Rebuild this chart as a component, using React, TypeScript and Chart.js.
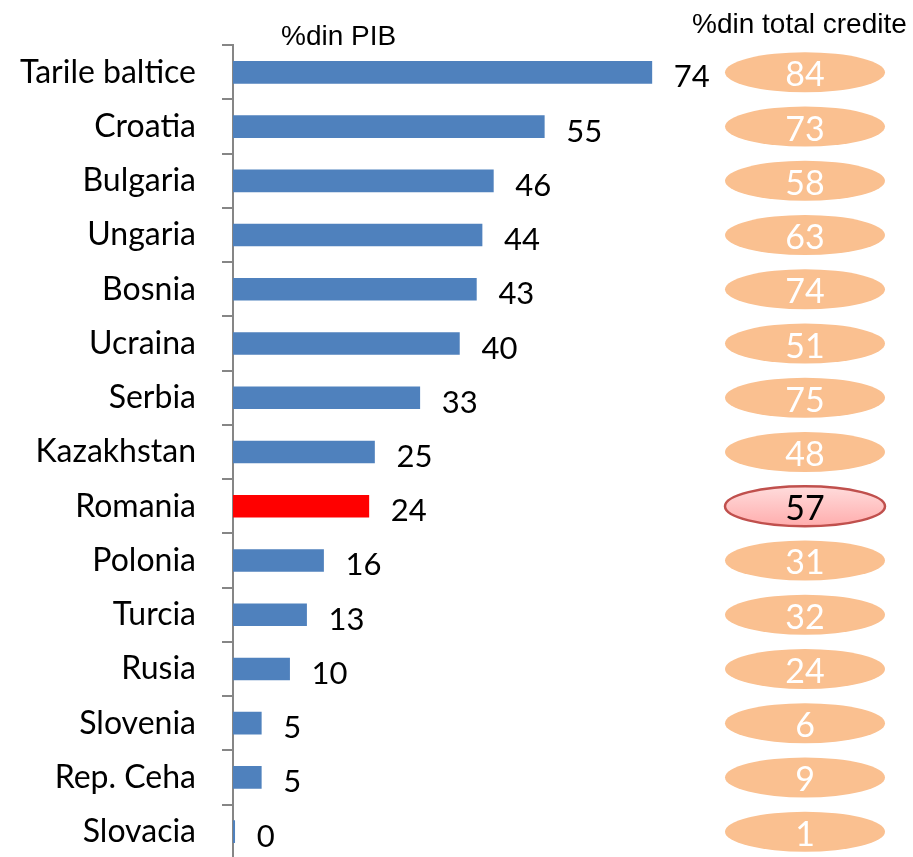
import React, { useEffect, useRef } from "react";
import { Chart, registerables } from "chart.js";

Chart.register(...registerables);

const categories = [
  "Tarile baltice", "Croatia", "Bulgaria", "Ungaria", "Bosnia", "Ucraina", "Serbia",
  "Kazakhstan", "Romania", "Polonia", "Turcia", "Rusia", "Slovenia", "Rep. Ceha", "Slovacia",
];
const pibValues = [74, 55, 46, 44, 43, 40, 33, 25, 24, 16, 13, 10, 5, 5, 0.3];
const creditShare = [84, 73, 58, 63, 74, 51, 75, 48, 57, 31, 32, 24, 6, 9, 1];
const highlightCategory = "Romania";
const pibTitle = "%din PIB";
const creditTitle = "%din total credite";

const BLUE = "#4F81BD";
const RED = "#FF0000";
const PEACH = "#FAC090";

const overlayPlugin = {
  id: "overlay",
  afterDatasetsDraw(chart: any) {
    const ctx = chart.ctx;
    const meta = chart.getDatasetMeta(0);
    const yScale = chart.scales.y;
    ctx.save();
    // value labels
    ctx.font = "31px Lato";
    ctx.fillStyle = "#000";
    ctx.textAlign = "left";
    ctx.textBaseline = "alphabetic";
    meta.data.forEach((el: any, i: number) => {
      ctx.fillText(String(Math.round(pibValues[i])), el.x + 22, el.y + 15);
    });
    // ellipses
    const cx = 805;
    const rx = 80;
    const ry = 20;
    creditShare.forEach((v, i) => {
      const cy = yScale.getPixelForValue(i);
      const hl = categories[i] === highlightCategory;
      ctx.beginPath();
      ctx.ellipse(cx, cy, rx, ry, 0, 0, Math.PI * 2);
      if (hl) {
        const g = ctx.createLinearGradient(0, cy - ry, 0, cy + ry);
        g.addColorStop(0, "#FFDCDC");
        g.addColorStop(1, "#FFADAD");
        ctx.fillStyle = g;
        ctx.fill();
        ctx.lineWidth = 2.5;
        ctx.strokeStyle = "#C0504D";
        ctx.stroke();
      } else {
        ctx.fillStyle = PEACH;
        ctx.fill();
      }
      ctx.font = "34px Lato";
      ctx.textAlign = "center";
      ctx.textBaseline = "alphabetic";
      ctx.fillStyle = hl ? "#000" : "#FFFFFF";
      ctx.fillText(String(v), cx, cy + 14);
    });
    // headers
    ctx.fillStyle = "#000";
    ctx.textAlign = "left";
    ctx.font = "28px 'Liberation Sans'";
    ctx.fillText(pibTitle, 281, 45);
    ctx.fillText(creditTitle, 692, 33);
    ctx.restore();
  },
};

export default function App() {
  const ref = useRef<HTMLCanvasElement | null>(null);
  useEffect(() => {
    if (!ref.current) return;
    const chart = new Chart(ref.current, {
      type: "bar",
      data: {
        labels: categories,
        datasets: [
          {
            data: pibValues,
            backgroundColor: categories.map((c) => (c === highlightCategory ? RED : BLUE)),
            barThickness: 22,
          },
        ],
      },
      options: {
        indexAxis: "y",
        animation: false,
        responsive: false,
        layout: { padding: { top: 44, bottom: 10, right: 114, left: 0 } },
        plugins: { legend: { display: false }, tooltip: { enabled: false } },
        scales: {
          x: { display: false, min: 0, max: 100 },
          y: {
            afterFit: (s: any) => {
              s.width = 233;
            },
            border: { display: true, color: "#868686", width: 2 },
            grid: {
              drawOnChartArea: false,
              drawTicks: true,
              tickLength: 11,
              color: "#868686",
              lineWidth: 2,
            },
            ticks: {
              color: "#000",
              font: { family: "Lato", size: 32 },
              padding: 26,
              autoSkip: false,
            },
          },
        },
      },
      plugins: [overlayPlugin],
    });
    return () => chart.destroy();
  }, []);
  return (
    <div style={{ position: "fixed", left: 0, top: 0, width: 913, height: 857, overflow: "hidden", background: "#fff" }}>
      <canvas ref={ref} width={913} height={904} style={{ width: 913, height: 904, display: "block" }} />
    </div>
  );
}
